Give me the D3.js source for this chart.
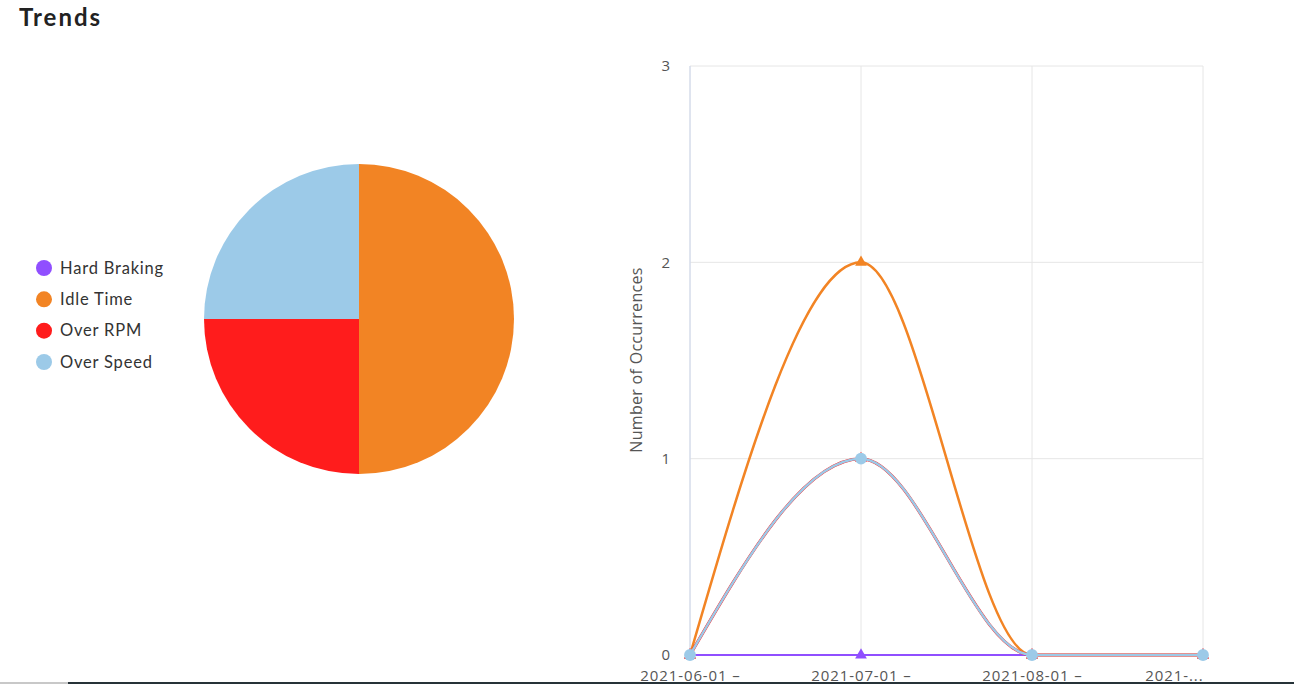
<!DOCTYPE html>
<html><head><meta charset="utf-8">
<script src="https://cdn.jsdelivr.net/npm/d3@7"></script>
<style>
html,body{margin:0;padding:0;background:#fff;overflow:hidden;}
svg{display:block;}
</style></head>
<body>
<svg id="c" width="1294" height="684"></svg>
<script>
const seriesNames = ["Hard Braking", "Idle Time", "Over RPM", "Over Speed"];
const seriesColors = ["#904fff", "#f28424", "#ff1c1c", "#9ccae8"];
const categories = ["2021-06-01 –", "2021-07-01 –", "2021-08-01 –", "2021-..."];
const hardBraking = [0, 0, 0, 0];
const idleTime = [0, 2, 0, 0];
const overRPM = [0, 1, 0, 0];
const overSpeed = [0, 1, 0, 0];
const pieTotals = [0, 2, 1, 1];
const yTicks = [0, 1, 2, 3];
const markerShapes = ["triangle", "triangle", "triangle", "circle"];

const seriesValues = [hardBraking, idleTime, overRPM, overSpeed];
const svg = d3.select("#c");

// title
svg.append("text").attr("x", 19).attr("y", 26)
  .attr("font-family", "Lato, 'Open Sans', sans-serif").attr("font-weight", 700)
  .attr("font-size", 24).attr("letter-spacing", 2).attr("fill", "#222").text("Trends");

// Pie
const pie = d3.pie().sort(null).value(d => d)(pieTotals);
const arc = d3.arc().innerRadius(0).outerRadius(155);
const pg = svg.append("g").attr("transform", "translate(359,319)");
pg.selectAll("path").data(pie).join("path")
  .attr("d", arc).attr("fill", (d, i) => seriesColors[i]);

// Legend
const lg = svg.append("g");
const ly = d3.scalePoint().domain(seriesNames).range([268, 362]);
seriesNames.forEach((n, i) => {
  lg.append("circle").attr("cx", 44).attr("cy", ly(n)).attr("r", 8).attr("fill", seriesColors[i]);
  lg.append("text").attr("x", 60).attr("y", ly(n)).attr("dy", "0.35em")
    .attr("font-family", "Lato, 'Open Sans', sans-serif").attr("font-size", 16.5)
    .attr("letter-spacing", 0.8).attr("fill", "#333").text(n);
});

// Line chart
const x = d3.scalePoint().domain(categories).range([690, 1203]);
const y = d3.scaleLinear().domain([0, 3]).range([655, 66]);
const g = svg.append("g");

// grid
g.selectAll("line.h").data(yTicks).join("line").attr("class", "h")
  .attr("x1", 690).attr("x2", 1203).attr("y1", d => y(d)).attr("y2", d => y(d))
  .attr("stroke", "#e6e6e6").attr("stroke-width", 1);
g.selectAll("line.v").data(categories).join("line").attr("class", "v")
  .attr("x1", d => x(d)).attr("x2", d => x(d)).attr("y1", y(3)).attr("y2", y(0))
  .attr("stroke", "#e6e6e6").attr("stroke-width", 1);
g.append("line").attr("x1", 690).attr("x2", 690).attr("y1", y(3)).attr("y2", y(0))
  .attr("stroke", "#ccd6eb").attr("stroke-width", 1);

// y ticks
const yAxis = d3.axisLeft(y).tickValues(yTicks).tickSize(0).tickPadding(20).tickFormat(d3.format("d"));
const ya = svg.append("g").attr("transform", "translate(690,0)").call(yAxis);
ya.select(".domain").remove();
ya.selectAll("text").attr("font-family", "'Open Sans', sans-serif").attr("font-size", 15).attr("fill", "#555");

// x labels
const xAxis = d3.axisBottom(x).tickSize(0).tickPadding(15);
const xa = svg.append("g").attr("transform", "translate(0,655)").call(xAxis);
xa.select(".domain").remove();
xa.selectAll("text").attr("font-family", "'Open Sans', sans-serif").attr("font-size", 15)
  .attr("letter-spacing", 0.9).attr("fill", "#555")
  .attr("text-anchor", (d, i) => i === categories.length - 1 ? "end" : "middle");

// y title
svg.append("text").attr("transform", "translate(642,360) rotate(-90)")
  .attr("text-anchor", "middle").attr("font-family", "'Open Sans', sans-serif")
  .attr("font-size", 16).attr("letter-spacing", 0.3).attr("fill", "#555").text("Number of Occurrences");

// lines
const line = d3.line().x((d, i) => x(categories[i])).y(d => y(d)).curve(d3.curveMonotoneX);
const widths = [2, 2.5, 3, 2.5];
seriesValues.forEach((vals, s) => {
  g.append("path").attr("d", line(vals)).attr("fill", "none")
    .attr("stroke", seriesColors[s]).attr("stroke-width", widths[s]);
});
const tri = d3.symbol().type(d3.symbolTriangle).size(60);
const circ = d3.symbol().type(d3.symbolCircle).size(110);
seriesValues.forEach((vals, s) => {
  g.selectAll(null).data(vals).join("path")
    .attr("d", markerShapes[s] === "circle" ? circ() : tri())
    .attr("transform", (d, i) => `translate(${x(categories[i])},${y(d)})`)
    .attr("fill", seriesColors[s]);
});

// bottom scrollbar
svg.append("rect").attr("x", 0).attr("y", 682).attr("width", 68).attr("height", 2).attr("fill", "#c8c8c8");
svg.append("rect").attr("x", 68).attr("y", 682).attr("width", 1226).attr("height", 2).attr("fill", "#263238");
</script>
</body></html>
